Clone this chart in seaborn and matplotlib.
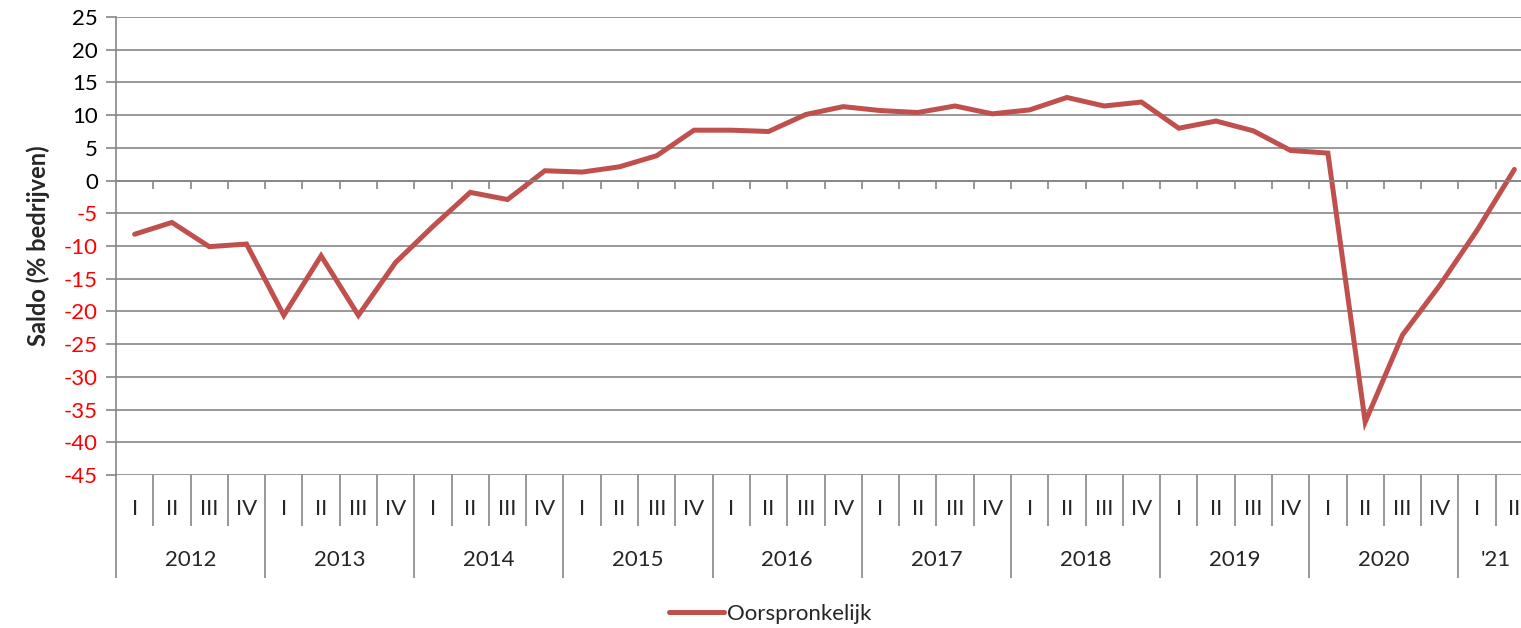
import numpy as np
import pandas as pd
import seaborn as sns
import matplotlib.pyplot as plt

# quarterly saldo, 2012-I .. 2021-II
quarters = ["I", "II", "III", "IV"] * 9 + ["I", "II"]
years = ["2012", "2013", "2014", "2015", "2016", "2017", "2018", "2019", "2020", "'21"]
saldo = [-8.2, -6.4, -10.1, -9.7,
         -20.6, -11.5, -20.6, -12.5,
         -7.0, -1.8, -2.9, 1.5,
         1.3, 2.1, 3.8, 7.7,
         7.7, 7.5, 10.1, 11.3,
         10.7, 10.4, 11.4, 10.2,
         10.8, 12.7, 11.4, 12.0,
         8.0, 9.1, 7.6, 4.6,
         4.2, -36.9, -23.6, -16.0,
         -7.6, 1.7]
series_name = "Oorspronkelijk"
yticks = list(range(-45, 30, 5))

GRAY = "#868686"
LINE = "#C0504D"
FS = 16

sns.set_style("white")
plt.rcParams["font.family"] = ["Lato", "DejaVu Sans"]

df = pd.DataFrame({"pos": np.arange(len(saldo)), "saldo": saldo, "reeks": series_name})

fig = plt.figure(figsize=(15.21, 6.28), dpi=100)
ax = fig.add_axes([116 / 1521, 1 - 475 / 628, 1417 / 1521, 458 / 628])

sns.lineplot(data=df, x="pos", y="saldo", hue="reeks", palette=[LINE],
             linewidth=3.6, ax=ax, legend=False, solid_joinstyle="miter")

ax.set_xlim(-0.5, len(saldo) - 0.5)
ax.set_ylim(-45, 25)
ax.set_yticks(yticks)
ax.set_yticklabels([str(v) for v in yticks], fontsize=FS)
for lab, v in zip(ax.get_yticklabels(), yticks):
    lab.set_color("red" if v < 0 else "black")
ax.tick_params(axis="y", length=7, width=1.2, color=GRAY, direction="out", pad=6, left=True)
ax.grid(axis="y", color=GRAY, linewidth=1.2)
ax.set_axisbelow(True)

for s in ["top", "right"]:
    ax.spines[s].set_visible(False)
ax.spines["left"].set_color(GRAY)
ax.spines["left"].set_linewidth(1.2)
ax.spines["bottom"].set_position(("data", 0))
ax.spines["bottom"].set_color(GRAY)
ax.spines["bottom"].set_linewidth(1.2)

bounds = np.arange(0.5, len(saldo) - 0.5, 1.0)
ax.set_xticks(bounds)
ax.set_xticklabels([])
ax.tick_params(axis="x", length=6, width=1.2, color=GRAY, direction="out", bottom=True)
ax.set_xlabel("")
ax.set_ylabel("Saldo (% bedrijven)", fontsize=17, fontweight="bold", labelpad=10)

# quarter row
qax = ax.secondary_xaxis(0)
qax.spines["bottom"].set_visible(False)
qax.set_xticks(np.arange(len(quarters)))
qax.set_xticklabels(quarters, fontsize=FS)
qsep = [b for b in bounds if (b + 0.5) % 4 != 0]
qax.set_xticks(qsep, minor=True)
qax.tick_params(axis="x", which="major", length=0, pad=17)
qax.tick_params(axis="x", which="minor", length=37, width=1.2, color=GRAY)

# year row
yax = ax.secondary_xaxis(0)
yax.spines["bottom"].set_visible(False)
ycent = [4 * i + 1.5 for i in range(len(years) - 1)] + [4 * (len(years) - 1) + 0.5]
yax.set_xticks(ycent)
yax.set_xticklabels(years, fontsize=FS)
ysep = [-0.5] + [b for b in bounds if (b + 0.5) % 4 == 0]
yax.set_xticks(ysep, minor=True)
yax.tick_params(axis="x", which="major", length=0, pad=54)
yax.tick_params(axis="x", which="minor", length=74, width=1.2, color=GRAY)

handle = plt.Line2D([], [], color=LINE, linewidth=3.6)
fig.legend([handle], [series_name], loc="center", bbox_to_anchor=(770 / 1521, 1 - 614 / 628),
           frameon=False, fontsize=FS, handlelength=2.5, handletextpad=0.1)

fig.savefig("out.png", dpi=100)
